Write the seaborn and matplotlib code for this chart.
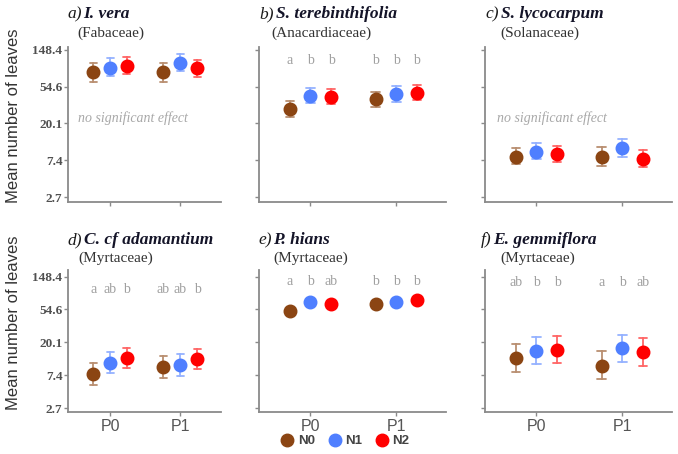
import numpy as np
import pandas as pd
import matplotlib
matplotlib.use("Agg")
import matplotlib.pyplot as plt
from matplotlib.lines import Line2D
from matplotlib.ticker import FixedLocator, NullLocator, FixedFormatter
import seaborn as sns

# ---------------- data ----------------
phosphorus = ["P0", "P1"]
nitrogen = ["N0", "N1", "N2"]
palette = {"N0": "#8B4513", "N1": "#4F7FFF", "N2": "#FF0000"}
y_ticks = [2.7, 7.4, 20.1, 54.6, 148.4]
y_tick_labels = ["2.7", "7.4", "20.1", "54.6", "148.4"]

panel_tags = ["a)", "b)", "c)", "d)", "e)", "f)"]
species = ["I. vera", "S. terebinthifolia", "S. lycocarpum",
           "C. cf adamantium", "P. hians", "E. gemmiflora"]
families = ["(Fabaceae)", "(Anacardiaceae)", "(Solanaceae)",
            "(Myrtaceae)", "(Myrtaceae)", "(Myrtaceae)"]

# order: P0-N0, P0-N1, P0-N2, P1-N0, P1-N1, P1-N2
mean_a = [80.6, 91.8, 96.5, 80.6, 105.1, 90.0]
low_a = [62.8, 73.0, 77.5, 62.8, 84.8, 71.5]
high_a = [103.5, 118.0, 124.0, 103.5, 133.0, 113.0]

mean_b = [29.7, 42.9, 41.7, 38.9, 44.7, 46.5]
low_b = [23.8, 34.8, 34.1, 31.2, 36.2, 38.1]
high_b = [37.3, 52.5, 50.9, 47.9, 55.7, 57.4]

mean_c = [8.17, 9.30, 8.76, 8.17, 10.38, 7.61]
low_c = [6.62, 7.61, 7.10, 6.36, 8.17, 6.17]
high_c = [10.28, 11.70, 10.91, 10.49, 13.07, 9.78]

mean_d = [7.69, 10.8, 12.4, 9.39, 10.07, 12.18]
low_d = [5.47, 7.85, 9.12, 6.75, 7.24, 8.85]
high_d = [10.59, 14.88, 16.78, 13.07, 14.01, 16.28]

mean_e = [52.5, 68.7, 63.4, 64.7, 68.7, 73.7]
low_e = [50.9, 66.7, 61.5, 62.8, 66.7, 71.5]
high_e = [54.1, 70.8, 65.3, 66.7, 70.8, 75.9]

mean_f = [12.4, 15.5, 15.96, 9.87, 16.78, 14.88]
low_f = [8.08, 10.28, 10.70, 6.55, 11.02, 9.78]
high_f = [18.9, 23.6, 24.0, 15.18, 25.3, 22.9]

letters_a = None
letters_b = ["a", "b", "b", "b", "b", "b"]
letters_c = None
letters_d = ["a", "ab", "b", "ab", "ab", "b"]
letters_e = ["a", "b", "ab", "b", "b", "b"]
letters_f = ["ab", "b", "b", "a", "b", "ab"]

means = [mean_a, mean_b, mean_c, mean_d, mean_e, mean_f]
lows = [low_a, low_b, low_c, low_d, low_e, low_f]
highs = [high_a, high_b, high_c, high_d, high_e, high_f]
letters = [letters_a, letters_b, letters_c, letters_d, letters_e, letters_f]
no_effect = [True, False, True, False, False, False]

# ---------------- layout ----------------
W, H = 678, 454
sns.set_style("ticks")
plt.rcParams["font.family"] = ["Liberation Serif", "DejaVu Serif"]

fig = plt.figure(figsize=(W / 100, H / 100), dpi=100)

col_x = [(68, 221), (259, 446), (485, 672)]
row_y = [(47, 202), (270, 412)]
row_ylim = [(2.37, 160.8), (2.41, 181.0)]
letter_y = [None, 110, None, 101, 129, 125]
dodge = 0.48
offsets = np.linspace(-dodge / 2, dodge / 2, len(nitrogen))

spine_c = "#8a8a8a"


def fx(px):
    return px / W


def fy(py):
    return 1 - py / H


axes = []
for i in range(6):
    r, c = divmod(i, 3)
    x0, x1 = col_x[c]
    y0, y1 = row_y[r]
    ax = fig.add_axes([fx(x0), fy(y1), (x1 - x0) / W, (y1 - y0) / H])
    axes.append(ax)

    rows = []
    k = 0
    for p in phosphorus:
        for n in nitrogen:
            for v in (lows[i][k], means[i][k], highs[i][k]):
                rows.append({"P": p, "N": n, "value": v})
            k += 1
    df = pd.DataFrame(rows)

    ax.set_yscale("log")
    sns.pointplot(data=df, x="P", y="value", hue="N", order=phosphorus,
                  hue_order=nitrogen, palette=palette, estimator="median",
                  errorbar=("pi", 100), dodge=dodge, linestyle="none",
                  markers="o", markersize=8, capsize=0.1,
                  err_kws={"linewidth": 1.3, "alpha": 0.6},
                  legend=False, ax=ax)

    ax.set_xlim(-0.6, 1.58)
    ax.set_ylim(*row_ylim[r])
    ax.yaxis.set_major_locator(FixedLocator(y_ticks))
    ax.yaxis.set_minor_locator(NullLocator())
    if c == 0:
        ax.yaxis.set_major_formatter(FixedFormatter(y_tick_labels))
    else:
        ax.set_yticklabels([])
    if r == 0:
        ax.set_xticklabels([])
    ax.set_xlabel("")
    ax.set_ylabel("")
    for s in ("top", "right"):
        ax.spines[s].set_visible(False)
    for s in ("left", "bottom"):
        ax.spines[s].set_color(spine_c)
        ax.spines[s].set_linewidth(1.3)
    ax.tick_params(axis="both", color=spine_c, length=3, width=1)
    ax.tick_params(axis="y", labelsize=9.5, labelcolor="#505050", pad=1)
    for lab in ax.get_yticklabels():
        lab.set_fontweight("bold")
    ax.tick_params(axis="x", labelsize=11.5, labelcolor="#555555", pad=2)
    for lab in ax.get_xticklabels():
        lab.set_family(["Liberation Sans", "DejaVu Sans"])

    if letters[i] is not None:
        k = 0
        for pi, p in enumerate(phosphorus):
            for ni, n in enumerate(nitrogen):
                ax.text(pi + offsets[ni], letter_y[i], letters[i][k],
                        ha="center", va="center", fontsize=10,
                        color="#a0a0a0")
                k += 1
    if no_effect[i]:
        ax.text(0.065, 23, "no significant effect",
                transform=ax.get_yaxis_transform(), ha="left", va="center",
                fontsize=10, style="italic", color="#a8a8a8")

# titles
title_pos = [(67, 14), (259, 14), (485, 14), (67, 240), (258, 240), (481, 240)]
sub_pos = [(77, 33), (271, 33), (500, 33), (78, 258), (273, 258), (500, 258)]
fig.canvas.draw()
renderer = fig.canvas.get_renderer()
for i in range(6):
    tx, ty = title_pos[i]
    t1 = fig.text(fx(tx), fy(ty), panel_tags[i], ha="left", va="center",
                  fontsize=12.5, style="italic", color="#1a1a1a")
    bb = t1.get_window_extent(renderer=renderer)
    fig.text(bb.x1 / W + 2 / W, fy(ty), species[i], ha="left", va="center",
             fontsize=12.5, style="italic", fontweight="bold", color="#141428")
    sx, sy = sub_pos[i]
    fig.text(fx(sx), fy(sy), families[i], ha="left", va="center",
             fontsize=11, color="#333333")

# y labels
for yc in (116, 323):
    fig.text(fx(14), fy(yc), "Mean number of leaves", rotation=90,
             ha="center", va="center", fontsize=12, color="#333333",
             family=["Liberation Sans", "DejaVu Sans"])

# legend
handles = [Line2D([], [], marker="o", linestyle="none", markersize=9,
                  color=palette[n], label=n) for n in nitrogen]
fig.legend(handles=handles, loc="center", bbox_to_anchor=(fx(345), fy(441)),
           ncol=3, frameon=False, handletextpad=0.3, columnspacing=1.0,
           handlelength=1.0, borderpad=0.1,
           prop={"family": ["Liberation Sans", "DejaVu Sans"], "size": 9.5,
                 "weight": "bold"}, labelcolor="#444444")

fig.savefig("out.png", dpi=100)
